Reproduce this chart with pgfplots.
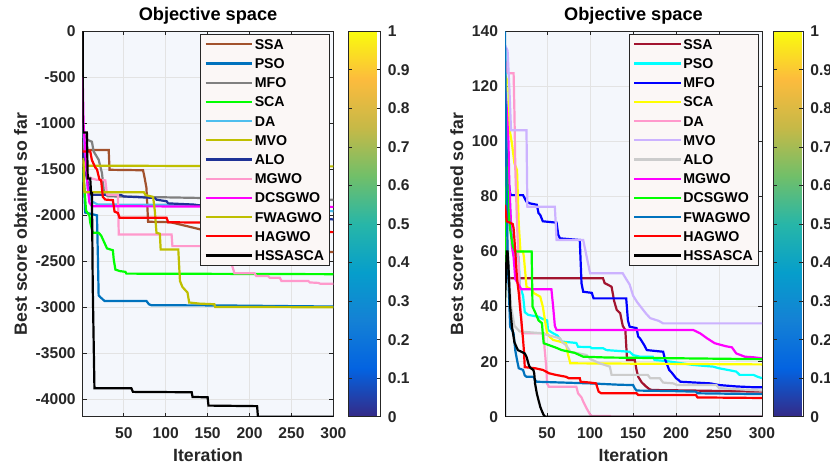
\documentclass[border=0pt]{standalone}
\usepackage{pgfplots}
\pgfplotsset{compat=1.18}
\usepackage{fontspec}
\setmainfont{Liberation Sans}

\definecolor{axbg}{RGB}{244,247,252}
\definecolor{legbg}{RGB}{251,247,246}
\definecolor{frame}{RGB}{38,38,38}
% left panel
\definecolor{ssaL}{RGB}{162,82,45}
\definecolor{psoL}{RGB}{0,114,189}
\definecolor{mfoL}{RGB}{128,128,128}
\definecolor{scaL}{RGB}{0,255,0}
\definecolor{daL}{RGB}{77,190,238}
\definecolor{mvoL}{RGB}{191,191,0}
\definecolor{aloL}{RGB}{31,50,150}
\definecolor{mgwoL}{RGB}{255,153,204}
\definecolor{dcsL}{RGB}{255,0,255}
\definecolor{fwaL}{RGB}{191,191,0}
% right panel
\definecolor{ssaR}{RGB}{162,20,47}
\definecolor{psoR}{RGB}{0,255,255}
\definecolor{mfoR}{RGB}{0,0,255}
\definecolor{scaR}{RGB}{255,255,0}
\definecolor{daR}{RGB}{255,153,204}
\definecolor{mvoR}{RGB}{204,178,255}
\definecolor{aloR}{RGB}{204,204,204}
\definecolor{mgwoR}{RGB}{255,0,255}
\definecolor{dcsR}{RGB}{0,255,0}
\definecolor{fwaR}{RGB}{0,114,189}

\pgfplotsset{
  every axis title shift=0pt,
  conv/.style={
    scale only axis,
    anchor=south west,
    height=192.65pt,
    xmin=1, xmax=300,
    xtick={50,100,150,200,250,300},
    grid=major,
    major grid style={color=gray!22, line width=0.4pt},
    axis background/.style={fill=axbg},
    axis line style={frame, line width=0.45pt},
    tick style={frame, line width=0.45pt},
    tick align=inside,
    major tick length=2pt,
    /pgf/number format/assume math mode=true,
    /pgf/number format/1000 sep={},
    ticklabel style={font=\fontsize{7.8}{9}\selectfont\bfseries, text=frame},
    xticklabel style={yshift=-2pt},
    label style={font=\fontsize{8.85}{10}\selectfont\bfseries, text=frame},
    xlabel style={yshift=2pt},
    ylabel style={yshift=-2.5pt},
    title style={font=\fontsize{9.1}{10}\selectfont\bfseries, inner sep=0pt, yshift=3.5pt},
    title={Objective space},
    xlabel={Iteration},
    ylabel={Best score obtained so far},
    every axis plot/.append style={line width=1.1pt},
    legend cell align=left,
    legend image code/.code={\draw[#1, line width=1.1pt] (2.4pt,0pt) -- (25.6pt,0pt);},
    legend style={at={(1,1)}, anchor=north east, xshift=-1.6pt, yshift=-1.4pt,
      fill=legbg, draw=frame, line width=0.4pt,
      font=\fontsize{7.1}{8}\selectfont\bfseries,
      row sep=3.0pt, inner xsep=2pt, inner ysep=1.6pt,
      nodes={inner sep=0.8pt, text height=5pt, text depth=0pt}},
    colormap={parula}{rgb255=(53,42,135) rgb255=(3,99,225) rgb255=(20,129,213)
      rgb255=(6,158,203) rgb255=(39,182,168) rgb255=(113,191,105)
      rgb255=(198,185,71) rgb255=(252,187,61) rgb255=(249,251,14)},
    colorbar,
    point meta min=0, point meta max=1,
  }
}

\begin{document}
\begin{tikzpicture}
\useasboundingbox (0,0) rectangle (415pt,232.5pt);

\begin{axis}[conv,
  at={(41.35pt,24.15pt)}, width=125.35pt,
  ymin=-4189.8, ymax=0,
  ytick={-4000,-3500,-3000,-2500,-2000,-1500,-1000,-500,0},
  colorbar style={width=16.35pt, at={(parent axis.north east)}, anchor=north west,
    xshift=-1.15pt, ytick={0,0.1,0.2,0.3,0.4,0.5,0.6,0.7,0.8,0.9,1},
    tick align=inside, major tick length=2pt, axis line style={frame, line width=0.45pt},
    ytick style={frame, line width=0.45pt},
    /pgf/number format/assume math mode=true,
    yticklabel style={font=\fontsize{7.8}{9}\selectfont\bfseries, text=frame}},
]
\addplot[ssaL] coordinates {(1,-1200) (2,-1290) (32,-1290) (33,-1505) (73,-1510) (75,-1600) (77,-1700) (79,-2070) (105,-2075) (108,-2080) (140,-2150) (180,-2250) (220,-2330) (260,-2380) (300,-2400)};
\addplot[psoL] coordinates {(1,-1400) (3,-1750) (4,-1970) (18,-2000) (19,-2400) (20,-2870) (22,-2890) (27,-2931) (77,-2931) (80,-2967) (83,-2978) (166,-2980) (300,-2992)};
\addplot[mfoL] coordinates {(1,-1050) (2,-1110) (7,-1180) (12,-1200) (14,-1305) (20,-1395) (24,-1540) (26,-1720) (28,-1775) (31,-1793) (140,-1811) (220,-1825) (300,-1830)};
\addplot[scaL] coordinates {(1,-1500) (3,-1700) (5,-1950) (9,-2000) (10,-2080) (13,-2190) (20,-2190) (23,-2220) (27,-2300) (30,-2360) (37,-2380) (38,-2480) (40,-2590) (45,-2606) (52,-2615) (53,-2634) (300,-2640)};
\addplot[daL] coordinates {(1,-1000) (2,-1110) (4,-1360) (7,-1700) (12,-1850) (19,-1883) (130,-1885) (200,-1930) (300,-1955)};
\addplot[mvoL] coordinates {(1,-1380) (2,-1460) (300,-1468)};
\addplot[aloL] coordinates {(1,-1300) (3,-1450) (6,-1600) (10,-1775) (47,-1780) (50,-1795) (87,-1811) (89,-1830) (101,-1847) (103,-1870) (133,-1883) (200,-1960) (300,-2045)};
\addplot[mgwoL] coordinates {(1,-1400) (5,-1500) (8,-1580) (12,-1600) (17,-1612) (28,-1620) (30,-1775) (43,-1780) (44,-2208) (107,-2208) (108,-2335) (177,-2335) (178,-2510) (182,-2631) (206,-2631) (208,-2660) (222,-2660) (224,-2678) (236,-2678) (238,-2714) (270,-2714) (272,-2730) (282,-2735) (284,-2743) (300,-2745)};
\addplot[dcsL] coordinates {(1,-500) (2,-1000) (4,-1300) (7,-1700) (9,-1862) (12,-1901) (300,-1908)};
\addplot[fwaL] coordinates {(1,-1380) (2,-1420) (3,-1750) (74,-1750) (76,-1780) (85,-1800) (87,-1950) (89,-2190) (93,-2200) (94,-2371) (115,-2371) (117,-2714) (120,-2780) (126,-2840) (128,-2948) (140,-2960) (158,-2967) (159,-2996) (300,-3000)};
\addplot[red] coordinates {(1,-1305) (10,-1305) (12,-1400) (16,-1480) (18,-1500) (21,-1610) (23,-1620) (25,-1800) (28,-1829) (37,-1835) (39,-1960) (43,-1975) (45,-2027) (101,-2027) (103,-2075) (150,-2080) (200,-2130) (250,-2170) (300,-2183)};
\addplot[black] coordinates {(1,0) (1,-1100) (6,-1100) (7,-1600) (10,-1600) (11,-1760) (12,-1760) (13,-2790) (15,-3881) (59,-3881) (61,-3920) (131,-3924) (132,-3975) (150,-3979) (151,-4069) (209,-4075) (210,-4189.8) (300,-4189.8)};
\legend{SSA,PSO,MFO,SCA,DA,MVO,ALO,MGWO,DCSGWO,FWAGWO,HAGWO,HSSASCA}
\end{axis}

\begin{axis}[conv,
  at={(252.5pt,24.15pt)}, width=128.5pt,
  ymin=0, ymax=140,
  ytick={0,20,40,60,80,100,120,140},
  colorbar style={width=15pt, at={(parent axis.north east)}, anchor=north west,
    xshift=-2.85pt, ytick={0,0.1,0.2,0.3,0.4,0.5,0.6,0.7,0.8,0.9,1},
    tick align=inside, major tick length=2pt, axis line style={frame, line width=0.45pt},
    ytick style={frame, line width=0.45pt},
    /pgf/number format/assume math mode=true,
    yticklabel style={font=\fontsize{7.8}{9}\selectfont\bfseries, text=frame}},
]
\addplot[ssaR] coordinates {(1,77) (2,55) (3,50.3) (115,50.3) (117,48.5) (121,47.9) (125,47.2) (128,42) (131,38.8) (135,37.6) (138,33) (141,31.5) (143,20.6) (152,20.6) (154,17) (156,14.5) (160,12.5) (165,11) (169,10) (172,9.7) (220,9.5) (300,9.1)};
\addplot[psoR] coordinates {(1,135) (3,110) (5,90) (7,75) (9,65) (11,60) (17,58) (18,47) (20,46) (22,44) (24,38) (28,37) (40,36.3) (45,35.5) (50,35) (51,31.5) (57,30.3) (62,29.5) (67,27.3) (84,26.8) (86,25.4) (100,25.3) (102,24.9) (115,24.9) (119,24.2) (146,23.6) (150,22.4) (158,21.8) (173,21.8) (175,20.6) (189,20.2) (220,18.8) (243,18.2) (250,17.6) (270,16.4) (274,15.2) (290,15.2) (295,14.5) (300,14)};
\addplot[mfoR] coordinates {(1,110) (3,95) (5,85) (7,81.2) (8,80.5) (22,80.5) (26,78.1) (30,77.5) (38,77) (40,74) (42,73.3) (45,71) (61,70.5) (63,66) (65,64.8) (88,64.2) (90,48.5) (92,45.4) (102,45) (104,43) (142,43) (144,35) (146,32.7) (154,32.2) (156,29.1) (158,28.5) (163,26) (166,24.2) (185,23.6) (187,21) (189,19.4) (192,17) (195,16) (200,14) (203,13.3) (205,12.7) (240,12.1) (250,11.5) (270,11) (290,10.7) (300,10.7)};
\addplot[scaR] coordinates {(1,100) (2,123.5) (5,121) (6,105) (9,99.4) (12,92) (15,89.6) (17,70) (19,60) (22,60) (23,58) (26,47.2) (33,46) (34,45) (42,43.6) (45,40) (48,34) (50,30.3) (53,29) (57,27.9) (72,26.7) (74,23) (77,19.4) (300,19)};
\addplot[daR] coordinates {(1,130) (4,124.8) (11,124.8) (12,110) (13,90) (15,70) (17,55) (19,40) (21,30.3) (46,30.3) (47,25) (49,18) (50,12) (52,10.9) (84,10.9) (86,8.5) (90,7) (92,5.5) (96,3) (100,0.8) (102,0.3) (123,0.3) (124,0) (300,0)};
\addplot[mvoR] coordinates {(1,135) (4,133) (6,120) (8,104.1) (26,104.1) (27,76.3) (59,76.3) (61,64.2) (92,64.2) (100,52.1) (138,52.1) (142,50) (146,48) (150,44) (155,41.5) (160,39.5) (165,37.5) (170,35.8) (180,34.8) (185,33.9) (300,33.9)};
\addplot[aloR] coordinates {(1,95) (3,75) (5,55) (8,40) (12,33) (18,31) (20,30.9) (45,30.3) (50,29.7) (65,28.5) (68,27) (72,26) (77,23.6) (96,22.4) (100,21) (111,19.4) (123,18.2) (125,15.2) (167,15.2) (170,14) (181,14) (185,12.4) (197,12.1) (201,11.5) (247,11.5) (250,10.4) (270,10) (300,9.5)};
\addplot[mgwoR] coordinates {(1,120) (3,112) (5,100) (6,85) (8,70) (9,62) (11,58) (13,50) (20,46.3) (55,46.3) (57,40) (59,33) (61,31.5) (220,31.5) (228,30.3) (236,28.5) (245,26.7) (258,25.6) (265,25.2) (270,23) (280,21.8) (290,21.6) (300,21.2)};
\addplot[dcsR] coordinates {(1,41.8) (1,108) (2,100) (3,90) (5,75) (7,68) (10,62) (13,60) (32,60) (33,40) (36,38) (40,35) (44,34) (45,30) (46,26.7) (61,25) (67,24.2) (82,23.2) (92,21.8) (120,21.5) (300,20.9)};
\addplot[fwaR] coordinates {(1,140) (2,105) (3,80) (4,60) (5,49.6) (7,32.7) (11,30.3) (13,24) (15,20.6) (17,17.6) (22,17) (24,15) (26,14.5) (34,14.5) (36,13.3) (38,12.7) (100,12.1) (135,11.6) (150,11.5) (152,10.3) (154,9.5) (197,9.3) (223,9.1) (225,8.5) (300,8.2)};
\addplot[red] coordinates {(1,77) (3,71) (10,70) (11,68.5) (13,60) (15,50) (17,45) (19,38) (20,35) (22,28) (23,24) (24,18) (36,17.6) (45,17) (50,16.2) (52,15.8) (60,15.2) (72,14.5) (75,14) (88,14) (89,12.7) (100,12.4) (107,12.1) (108,11) (110,9.1) (113,8.5) (154,8.5) (156,7.9) (223,7.9) (225,7) (300,6.8)};
\addplot[black] coordinates {(1,0) (1,41.8) (3,60) (4,60) (5,55) (7,40) (9,33) (12,27) (16,24.2) (24,23) (26,21.8) (29,18.5) (31,17.6) (34,17) (35,15.8) (36,12) (38,8.5) (40,6) (42,3.6) (44,2) (46,0.6) (48,0) (300,0)};
\legend{SSA,PSO,MFO,SCA,DA,MVO,ALO,MGWO,DCSGWO,FWAGWO,HAGWO,HSSASCA}
\end{axis}
\end{tikzpicture}
\end{document}
